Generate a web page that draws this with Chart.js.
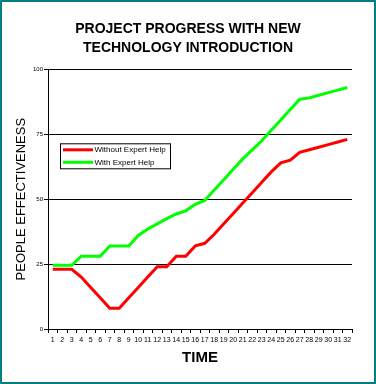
<!DOCTYPE html>
<html>
<head>
<meta charset="utf-8">
<script src="https://cdn.jsdelivr.net/npm/chart.js@4"></script>
<style>
  html, body { margin: 0; padding: 0; background: #fff; }
  #wrap { width: 376px; height: 384px; position: relative; }
</style>
</head>
<body>
<div id="wrap"><canvas id="progress"></canvas></div>
<script>
// time periods along the bottom
const timeLabels = ['1','2','3','4','5','6','7','8','9','10','11','12','13','14','15','16',
                    '17','18','19','20','21','22','23','24','25','26','27','28','29','30','31','32'];

// people effectiveness
const withoutExpertHelp = [23, 23, 23, 20, 16, 12, 8, 8, 12, 16, 20, 24, 24, 28, 28, 32,
                           33, 36.5, 40.5, 44.5, 48.5, 52.5, 56.5, 60.5, 64, 65, 68, 69, 70, 71, 72, 73];
const withExpertHelp = [24.5, 24.5, 24.5, 28, 28, 28, 32, 32, 32, 36, 38.5, 40.5, 42.5, 44.3, 45.5, 48,
                        49.5, 53.5, 57.5, 61.5, 65.5, 69, 72.5, 76.5, 80.5, 84.5, 88.5, 89, 90, 91, 92, 93];

const titleLines = ['PROJECT PROGRESS WITH NEW', 'TECHNOLOGY INTRODUCTION'];
const yTicks = [0, 25, 50, 75, 100];

const FONT = "'Liberation Sans', Arial, sans-serif";

// white page plus the teal frame round the whole picture
const framePlugin = {
    id: 'frame',
    beforeDraw(chart) {
        const c = chart.ctx;
        c.save();
        c.fillStyle = '#ffffff';
        c.fillRect(0, 0, chart.width, chart.height);
        c.restore();
    },
    afterDraw(chart) {
        const c = chart.ctx;
        c.save();
        c.strokeStyle = '#008080';
        c.lineWidth = 2;
        c.strokeRect(1, 1, chart.width - 2, chart.height - 2);
        c.restore();
    }
};

// boxed legend sitting inside the plot, top-left
const boxLegend = {
    id: 'boxLegend',
    afterDatasetsDraw(chart) {
        const c = chart.ctx;
        const a = chart.chartArea;
        const x = a.left + 12, y = a.top + 74;
        c.save();
        c.fillStyle = '#fff';
        c.fillRect(x, y, 110, 25);
        c.strokeStyle = '#000';
        c.lineWidth = 1;
        c.strokeRect(x + 0.5, y + 0.5, 110, 25);
        c.font = '8px ' + FONT;
        c.textBaseline = 'middle';
        chart.data.datasets.forEach((ds, i) => {
            const ly = y + 6.5 + i * 12.5;
            c.strokeStyle = ds.borderColor;
            c.lineWidth = 3;
            c.beginPath();
            c.moveTo(x + 3, ly);
            c.lineTo(x + 33, ly);
            c.stroke();
            c.fillStyle = '#000';
            c.fillText(ds.label, x + 34.5, ly);
        });
        c.restore();
    }
};

new Chart(document.getElementById('progress'), {
    type: 'line',
    data: {
        labels: timeLabels,
        datasets: [
            { label: 'Without Expert Help', data: withoutExpertHelp, borderColor: '#ff0000' },
            { label: 'With Expert Help', data: withExpertHelp, borderColor: '#00ff00' }
        ]
    },
    options: {
        responsive: true,
        maintainAspectRatio: false,
        animation: false,
        layout: { padding: { left: 24, right: 24, top: 0, bottom: 10 } },
        elements: {
            line: { borderWidth: 3, tension: 0, fill: false },
            point: { radius: 0, hoverRadius: 0 }
        },
        plugins: {
            legend: { display: false },
            tooltip: { enabled: false },
            title: {
                display: true,
                text: titleLines,
                color: '#000',
                font: { family: FONT, size: 14, weight: 'bold', lineHeight: 1.35 },
                padding: { top: 20, bottom: 11.5 }
            }
        },
        scales: {
            x: {
                type: 'category',
                offset: true,
                afterFit: (s) => { s.height = 45; },
                border: { display: true, color: '#000', width: 1 },
                grid: { offset: true, drawOnChartArea: false, drawTicks: true, tickLength: 4, color: '#000' },
                ticks: {
                    autoSkip: false, maxRotation: 0, minRotation: 0, padding: 3,
                    color: '#000', font: { family: FONT, size: 7 }
                },
                title: {
                    display: true, text: 'TIME', color: '#000',
                    font: { family: FONT, size: 15, weight: 'bold', lineHeight: 1.2 },
                    padding: { top: 0, bottom: 7 }
                }
            },
            y: {
                min: 0,
                max: 100,
                afterFit: (s) => { s.width = 24; },
                afterBuildTicks: (s) => { s.ticks = yTicks.map(v => ({ value: v })); },
                border: { display: true, color: '#000', width: 1 },
                grid: { color: '#000', lineWidth: 1, drawTicks: true, tickLength: 4 },
                ticks: { padding: 1, color: '#000', font: { family: FONT, size: 6 } },
                title: {
                    display: true, text: 'PEOPLE EFFECTIVENESS', color: '#000',
                    font: { family: FONT, size: 13, lineHeight: 1.2 },
                    padding: { top: -10, bottom: 0 }
                }
            }
        }
    },
    plugins: [framePlugin, boxLegend]
});
</script>
</body>
</html>
